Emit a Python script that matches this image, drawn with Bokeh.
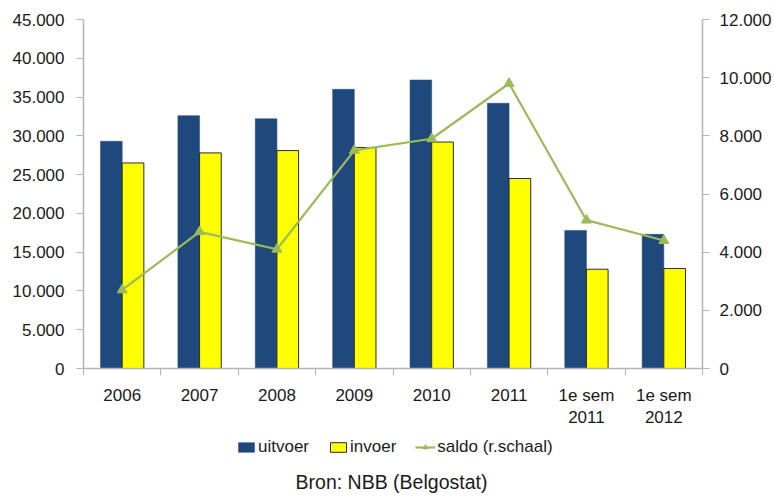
from bokeh.plotting import figure
from bokeh.layouts import column
from bokeh.models import Range1d, LinearAxis, FixedTicker, Legend, LegendItem, Label
from bokeh.embed import file_html
from bokeh.resources import INLINE

# Belgian trade figures (million EUR)
categories = ["2006", "2007", "2008", "2009", "2010", "2011", "1e sem\n2011", "1e sem\n2012"]
uitvoer = [29300, 32600, 32200, 36000, 37200, 34200, 17800, 17300]
invoer = [26500, 27800, 28100, 28500, 29200, 24500, 12800, 12900]
saldo = [2700, 4700, 4100, 7500, 7900, 9800, 5100, 4400]

left_ticks = list(range(0, 45001, 5000))
right_ticks = list(range(0, 12001, 2000))

FONT = "Liberation Sans"
FS = "17px"
TXT = "#1a1a1a"
GRID = "#a0a0a0"
AXIS = "#b4b4b4"
BLUE = "#1f497d"
YELLOW = "#ffff00"
GREEN = "#9bbb59"


def dotted(v):
    return f"{v:,}".replace(",", ".")


n = len(categories)
centers = [i + 0.5 for i in range(n)]
bar_w = 0.28

# ---- main chart -------------------------------------------------------
p = figure(width=774, height=430, x_range=Range1d(0, n), y_range=Range1d(0, 45000),
           output_backend="svg", toolbar_location=None,
           min_border_left=83, min_border_right=71, min_border_top=19, min_border_bottom=60,
           x_axis_type=None, y_axis_type=None)
p.outline_line_color = None
p.extra_y_ranges = {"saldo": Range1d(0, 12000)}

p.vbar(x=[c - bar_w / 2 for c in centers], top=uitvoer, width=bar_w,
       fill_color=BLUE, line_color=BLUE, line_width=0.5)
p.vbar(x=[c + bar_w / 2 for c in centers], top=invoer, width=bar_w,
       fill_color=YELLOW, line_color="#2b2b2b", line_width=1)
p.line(centers, saldo, y_range_name="saldo", line_color=GREEN, line_width=2.2)
p.scatter(centers, saldo, y_range_name="saldo", marker="triangle", size=10,
          fill_color=GREEN, line_color=GREEN)

# x axis: ticks between categories, labels at category centres
xax = LinearAxis(ticker=FixedTicker(ticks=centers, minor_ticks=list(range(n + 1))))
xax.major_label_overrides = {c: lab for c, lab in zip(centers, categories)}
xax.major_tick_out = 0
xax.major_tick_in = 0
xax.minor_tick_out = 7
xax.minor_tick_in = 0
xax.minor_tick_line_color = AXIS
xax.axis_line_color = AXIS
xax.major_label_standoff = 10
p.add_layout(xax, "below")

yl = LinearAxis(ticker=FixedTicker(ticks=left_ticks))
yl.major_label_overrides = {t: dotted(t) for t in left_ticks}
yl.major_tick_out = 7
yl.major_tick_in = 0
yl.major_tick_line_color = AXIS
yl.minor_tick_line_color = None
yl.axis_line_color = AXIS
yl.major_label_standoff = 12
p.add_layout(yl, "left")

yr = LinearAxis(y_range_name="saldo", ticker=FixedTicker(ticks=right_ticks))
yr.major_label_overrides = {t: dotted(t) for t in right_ticks}
yr.major_tick_out = 7
yr.major_tick_in = 0
yr.major_tick_line_color = AXIS
yr.minor_tick_line_color = None
yr.axis_line_color = AXIS
yr.major_label_standoff = 10
p.add_layout(yr, "right")

for ax in (xax, yl, yr):
    ax.major_label_text_font = FONT
    ax.major_label_text_font_size = FS
    ax.major_label_text_color = TXT
    ax.axis_line_width = 1.5

p.xgrid.visible = False
p.ygrid.ticker = FixedTicker(ticks=left_ticks)
p.ygrid.grid_line_color = GRID
p.ygrid.grid_line_width = 1.2

# ---- legend strip with source note ------------------------------------
# the strip's frame is aligned with the chart frame above (620 px wide)
q = figure(width=774, height=67, x_range=Range1d(0, 10), y_range=Range1d(0, 10),
           output_backend="svg", toolbar_location=None,
           min_border=0, x_axis_type=None, y_axis_type=None)
q.outline_line_color = None
q.grid.visible = False

# legend keys: one point each, kept outside the visible range
k1 = q.vbar(x=[-50], top=[-50], width=1, fill_color=BLUE, line_color=BLUE, line_width=0.5)
k2 = q.vbar(x=[-50], top=[-50], width=1, fill_color=YELLOW, line_color="#2b2b2b", line_width=1)
k3 = q.line(x=[-50, -49], y=[-50, -50], line_color=GREEN, line_width=2.2)
k4 = q.scatter(x=[-50], y=[-50], marker="triangle", size=7, fill_color=GREEN, line_color=GREEN)

legend = Legend(items=[
    LegendItem(label="uitvoer", renderers=[k1]),
    LegendItem(label="invoer", renderers=[k2]),
    LegendItem(label="saldo (r.schaal)", renderers=[k3, k4]),
], orientation="horizontal", location=(153, 40))
legend.label_text_font = FONT
legend.label_text_font_size = FS
legend.label_text_color = TXT
legend.label_height = 20
legend.glyph_width = 20
legend.glyph_height = 12
legend.label_standoff = 2
legend.spacing = 19
legend.padding = 0
legend.margin = 0
legend.border_line_color = None
legend.background_fill_alpha = 0
q.add_layout(legend, "center")

q.add_layout(Label(x=308, y=16, x_units="screen", y_units="screen",
                   text="Bron: NBB (Belgostat)", text_align="center", text_baseline="middle",
                   text_font=FONT, text_font_size="19.5px", text_color=TXT))

open("out.html", "w").write(file_html(column(p, q, spacing=0), INLINE))
